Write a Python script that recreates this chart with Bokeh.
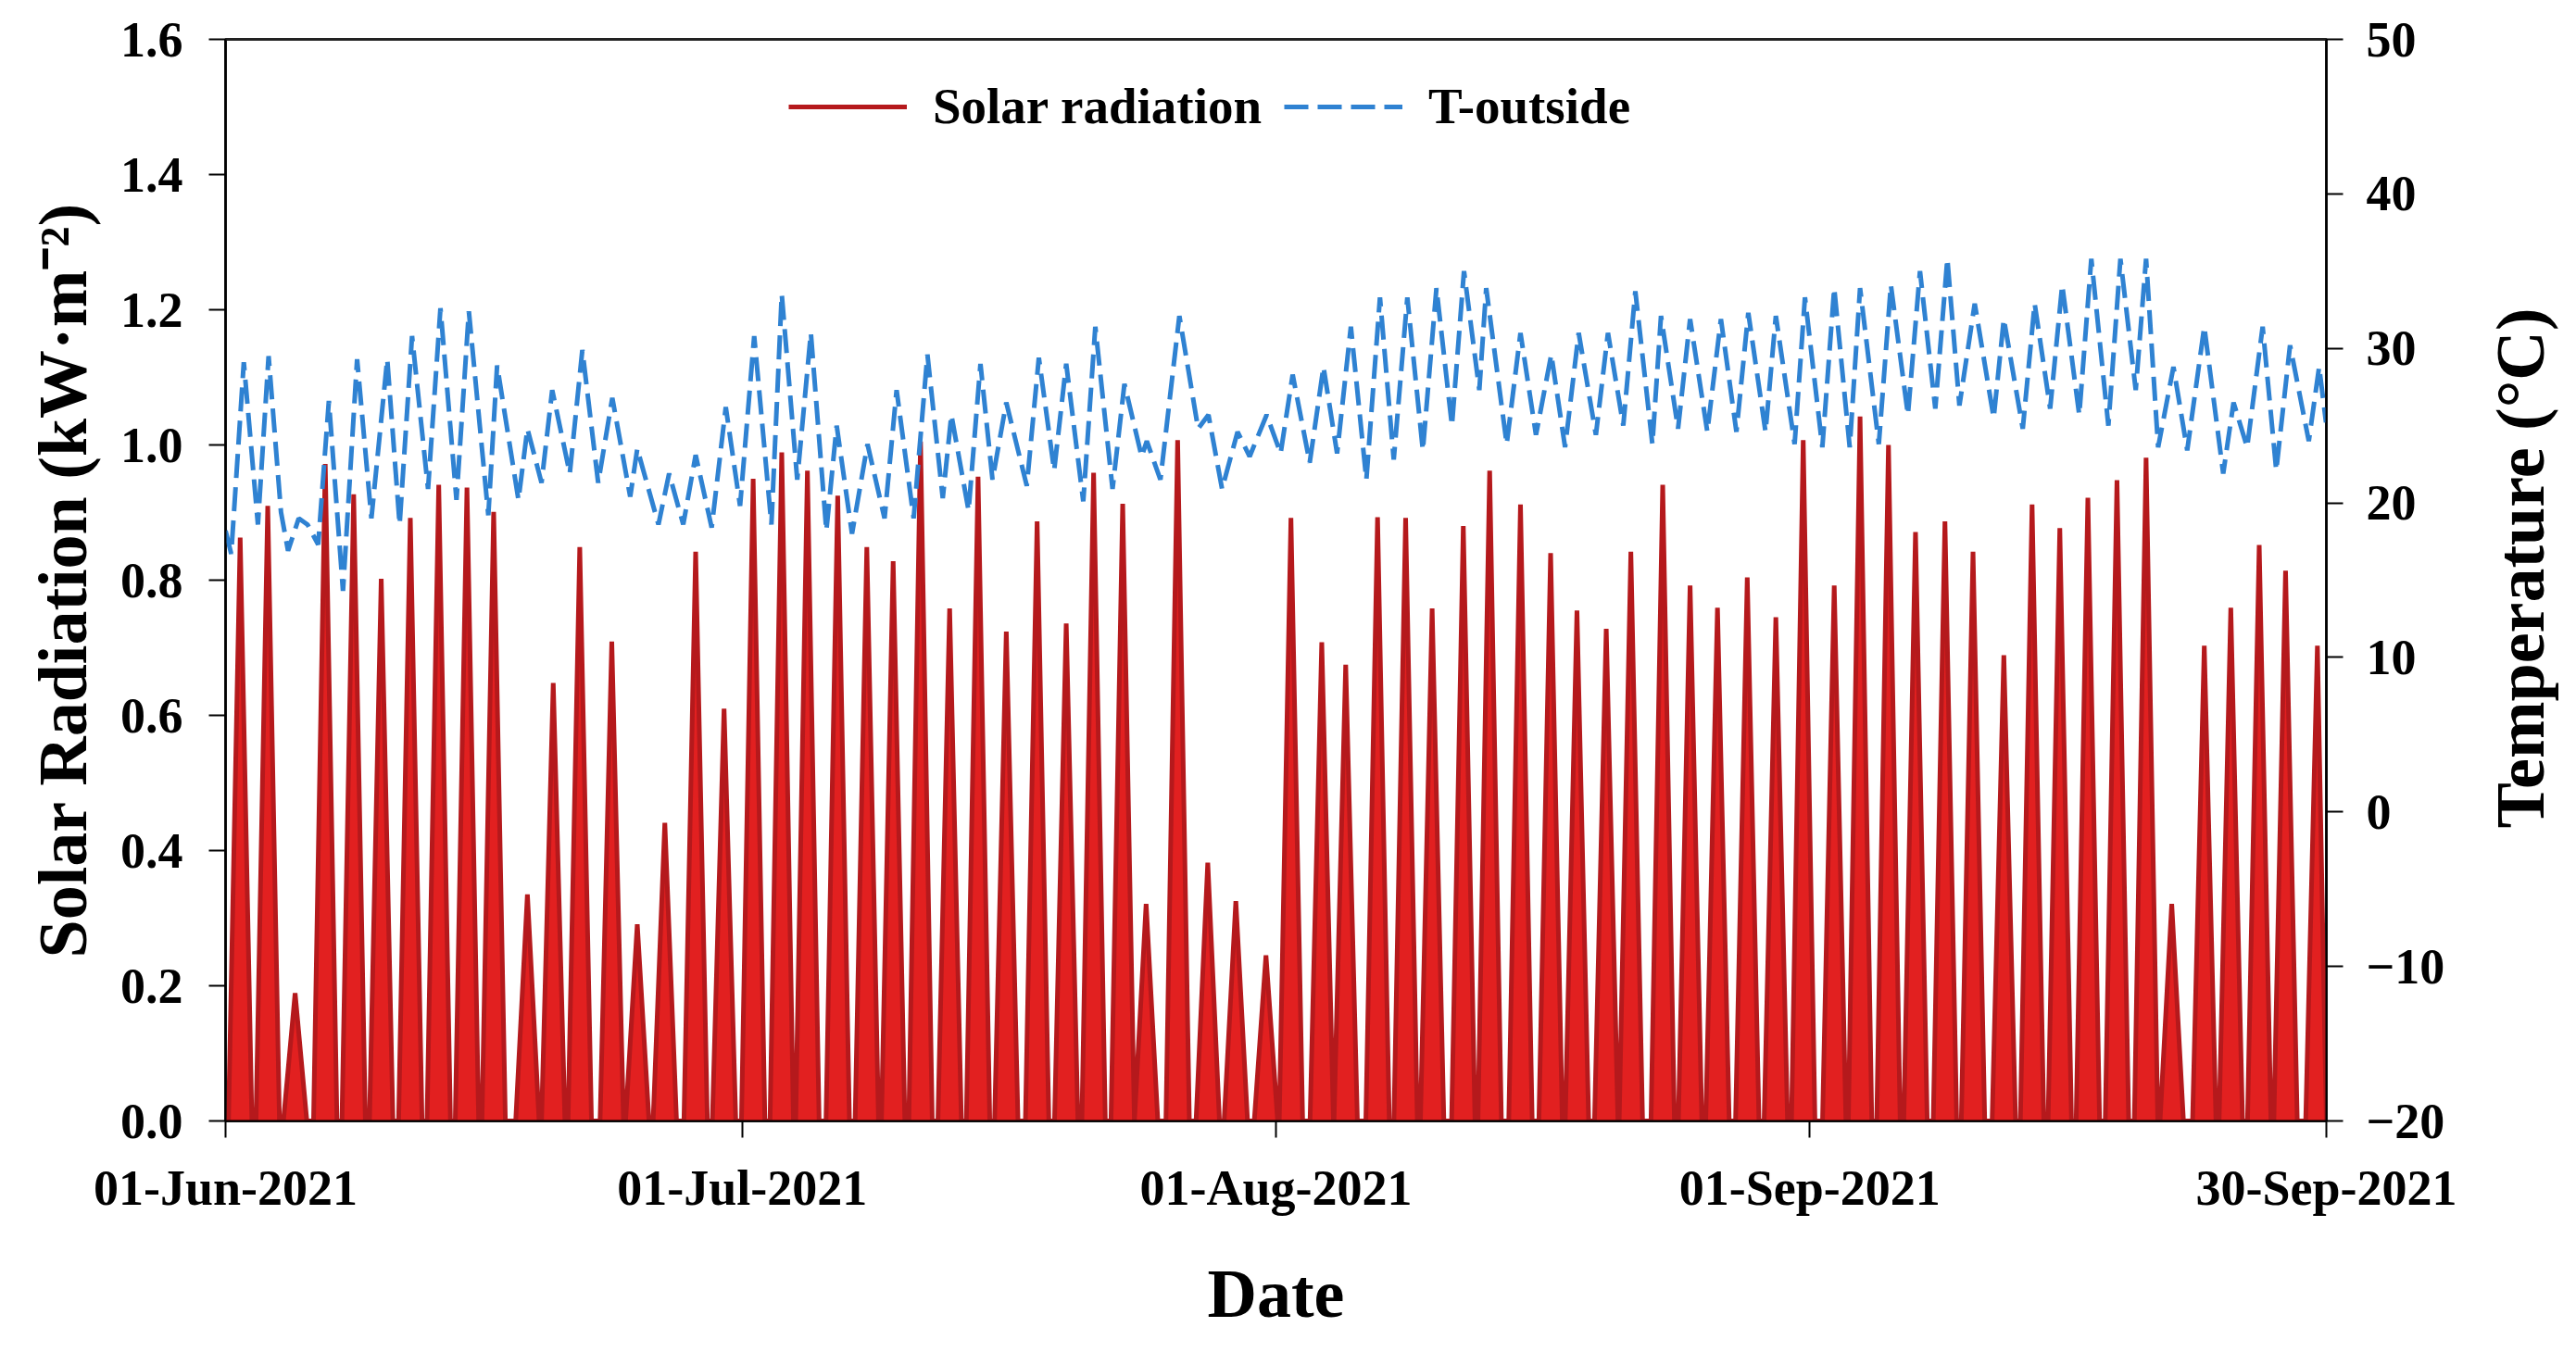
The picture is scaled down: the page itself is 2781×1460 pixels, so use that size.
from math import pi
from bokeh.plotting import figure
from bokeh.layouts import row
from bokeh.core.properties import value
from bokeh.models import (Range1d, LinearAxis, FixedTicker, PrintfTickFormatter,
                          Legend, LegendItem)
from bokeh.embed import file_html
from bokeh.resources import INLINE

# x values are days after 01-Jun-2021 00:00

# solar radiation: position and height of each spike (kW/m2)
solar_day = [0.85, 2.45, 4.04, 5.79, 7.44, 9.04, 10.73, 12.38, 14.02, 15.57,
             17.53, 19.03, 20.57, 22.43, 23.91, 25.51, 27.30, 28.95, 30.64,
             32.30, 33.79, 35.55, 37.24, 38.77, 40.36, 42.05, 43.70, 45.34, 47.13,
             48.82, 50.41, 52.10, 53.46, 55.29, 57.04, 58.67, 60.42,
             61.87, 63.66, 65.05, 66.90, 68.53, 70.07, 71.88, 73.41, 75.20, 76.95,
             78.48, 80.18, 81.61, 83.46, 85.05, 86.64, 88.37, 90.03, 91.62,
             93.42, 94.92, 96.57, 98.14, 99.85, 101.48, 103.27, 104.91, 106.52,
             108.15, 109.84, 111.53, 113.02, 114.91, 116.45, 118.10, 119.63, 121.48]
solar_peak = [0.863, 0.910, 0.189, 0.972, 0.927, 0.802, 0.892, 0.941, 0.937, 0.901,
              0.335, 0.648, 0.849, 0.709, 0.291, 0.441, 0.842, 0.610, 0.950,
              0.989, 0.962, 0.925, 0.849, 0.828, 1.005, 0.758, 0.953, 0.724, 0.887,
              0.736, 0.959, 0.913, 0.321, 1.007, 0.382, 0.325, 0.245,
              0.892, 0.708, 0.675, 0.893, 0.892, 0.758, 0.880, 0.962, 0.912, 0.840,
              0.755, 0.728, 0.842, 0.941, 0.792, 0.759, 0.804, 0.745, 1.007,
              0.792, 1.042, 1.000, 0.871, 0.887, 0.842, 0.689, 0.912, 0.877,
              0.922, 0.948, 0.981, 0.321, 0.703, 0.759, 0.852, 0.814, 0.703]

# outside temperature: turning points of the curve (degC)
temp_day = [0.00, 0.33, 1.06, 1.88, 2.50, 3.22, 3.63, 4.25, 4.76, 5.38, 6.00, 6.82,
            7.64, 8.47, 9.39, 10.11, 10.83, 11.76, 12.48, 13.41, 14.13, 15.26, 15.77,
            17.01, 17.53, 18.35, 18.97, 19.99, 20.72, 21.64, 22.46, 23.50, 23.91,
            25.14, 25.76, 26.58, 27.30, 28.23, 29.05, 29.88, 30.70,
            31.70, 32.30, 33.20, 33.99, 34.89, 35.49, 36.38, 37.28, 38.27, 38.97,
            39.96, 40.76, 41.65, 42.15, 43.15, 43.84, 44.54, 45.34, 46.53, 47.23,
            48.12, 48.82, 49.81, 50.51, 51.51, 52.20, 53.20, 53.50, 54.29, 55.39,
            56.48, 57.08, 57.87, 58.77, 59.47, 60.46,
            61.27, 61.97, 62.96, 63.76, 64.55, 65.35, 66.25, 67.04, 67.84, 68.63,
            69.53, 70.32, 71.22, 71.92, 72.81, 73.21, 74.40, 75.20, 76.10, 76.99,
            77.79, 78.58, 79.58, 80.28, 81.17, 81.87, 82.86, 83.36, 84.35, 85.05,
            86.05, 86.84, 87.74, 88.43, 89.43, 90.03, 91.12, 91.72,
            92.73, 93.42, 94.32, 94.92, 96.01, 96.71, 97.70, 98.40, 99.29, 99.99,
            100.69, 101.58, 102.68, 103.27, 104.37, 105.06, 105.96, 106.66, 107.65,
            108.35, 109.34, 110.04, 110.93, 111.53, 112.23, 113.12, 113.92, 114.91,
            116.01, 116.61, 117.40, 118.30, 119.09, 119.89, 120.98, 121.58, 121.98]
temp_val = [18.2, 16.7, 29.1, 18.6, 29.5, 19.4, 16.9, 19.0, 18.6, 17.3, 26.6, 14.3,
            29.3, 19.0, 29.3, 18.6, 30.8, 20.9, 32.6, 20.2, 32.4, 19.2, 28.9,
            20.2, 24.8, 21.3, 27.3, 21.9, 29.9, 21.3, 26.8, 20.4, 23.5,
            18.6, 21.9, 18.6, 23.1, 18.4, 26.2, 19.8, 30.8,
            18.6, 33.5, 21.5, 31.0, 18.2, 25.0, 18.0, 23.8, 19.0, 27.3,
            19.0, 29.6, 20.3, 25.7, 19.5, 29.0, 21.5, 26.5, 21.1, 29.4,
            22.1, 29.0, 20.1, 31.4, 20.9, 27.7, 23.0, 24.0, 21.5, 32.1,
            24.8, 25.7, 20.9, 24.6, 23.0, 25.7,
            23.2, 28.3, 22.6, 28.8, 23.2, 31.4, 21.5, 33.3, 22.8, 33.3,
            23.4, 33.9, 25.0, 35.0, 27.3, 33.9, 23.8, 31.0, 24.4, 29.6,
            23.6, 31.0, 24.4, 31.0, 25.0, 33.7, 23.8, 32.1, 24.8, 31.9,
            24.6, 31.9, 24.6, 32.3, 24.6, 32.1, 23.8, 33.3,
            23.6, 33.9, 23.6, 33.9, 23.8, 34.1, 25.7, 35.0, 26.1, 35.8,
            26.3, 32.9, 25.5, 31.9, 24.8, 32.9, 26.1, 34.1, 25.7,
            35.8, 25.0, 35.8, 27.3, 35.8, 23.6, 28.8, 23.4, 31.4,
            21.9, 26.5, 23.6, 31.4, 22.1, 30.2, 24.0, 28.8, 25.2]

date_ticks = [0, 30, 61, 92, 122]
date_labels = ["01-Jun-2021", "01-Jul-2021", "01-Aug-2021", "01-Sep-2021", "30-Sep-2021"]

FONT = "Liberation Serif"

# each day drawn as a spike from zero up to its peak and back
half = 0.68
sx, sy = [0.0], [0.0]
for d, v in zip(solar_day, solar_peak):
    sx += [d - half, d, min(d + half, 122.0)]
    sy += [0.0, v, 0.0]

p = figure(width=2680, height=1440, output_backend="svg", toolbar_location=None,
           x_range=Range1d(0, 122), y_range=Range1d(0, 1.6),
           min_border_left=243, min_border_right=169, min_border_top=42, min_border_bottom=229)
p.extra_y_ranges = {"temp": Range1d(-20, 50)}
p.grid.visible = False
p.outline_line_color = "#222222"
p.outline_line_width = 3

p.varea(x=sx, y1=0, y2=sy, fill_color="#e01414", fill_alpha=0.95)
red = p.line(sx, sy, line_color="#b5191c", line_width=5)
blue = p.line(temp_day, temp_val, y_range_name="temp", line_color="#2f82d2",
              line_width=5, line_dash="26 10")

right = LinearAxis(y_range_name="temp")
p.add_layout(right, "right")

for ax in [p.xaxis[0], p.yaxis[0], right]:
    ax.axis_line_color = "black"
    ax.axis_line_width = 2
    ax.major_tick_line_color = "black"
    ax.major_tick_line_width = 2
    ax.major_tick_in = 0
    ax.major_tick_out = 18
    ax.minor_tick_line_color = None
    ax.major_label_text_font = FONT
    ax.major_label_text_font_style = "bold"
    ax.major_label_text_font_size = "54px"
    ax.major_label_text_color = "black"
    ax.axis_label_text_font = FONT
    ax.axis_label_text_font_style = "bold"
    ax.axis_label_text_font_size = "74px"
    ax.axis_label_text_color = "black"

p.xaxis.ticker = FixedTicker(ticks=date_ticks)
p.xaxis.major_label_overrides = dict(zip(date_ticks, date_labels))
p.xaxis.axis_label = "Date"
p.xaxis.major_label_standoff = 24
p.xaxis.axis_label_standoff = 40

p.yaxis[0].ticker = FixedTicker(ticks=[0, 0.2, 0.4, 0.6, 0.8, 1.0, 1.2, 1.4, 1.6])
p.yaxis[0].formatter = PrintfTickFormatter(format="%.1f")
p.yaxis[0].axis_label = "Solar Radiation (kW·m⁻²)"
p.yaxis[0].major_label_standoff = 28
p.yaxis[0].axis_label_standoff = 18

right.ticker = FixedTicker(ticks=[-20, -10, 0, 10, 20, 30, 40, 50])
right.major_label_standoff = 25

legend = Legend(items=[LegendItem(label="Solar radiation", renderers=[red]),
                       LegendItem(label="T-outside", renderers=[blue])],
                orientation="horizontal", location=(608, 1064),
                border_line_color=None, background_fill_alpha=0,
                glyph_width=128, glyph_height=44, label_standoff=28, spacing=24,
                padding=0, margin=0,
                label_text_font=FONT, label_text_font_style="bold",
                label_text_font_size="55px", label_text_color="black")
p.add_layout(legend)

# right axis title in its own narrow strip, so it can read bottom to top
q = figure(width=85, height=1440, output_backend="svg", toolbar_location=None,
           x_range=Range1d(0, 85), y_range=Range1d(0, 1440),
           x_axis_location=None, y_axis_location=None, min_border=0)
q.grid.visible = False
q.outline_line_color = None
q.text(x=[40], y=[736], text=["Temperature (°C)"], angle=pi / 2,
       text_align="center", text_baseline="middle", text_font=value(FONT),
       text_font_style="bold", text_font_size="74px", text_color="black")

layout = row(p, q, spacing=0)
open("out.html", "w").write(file_html(layout, INLINE))
